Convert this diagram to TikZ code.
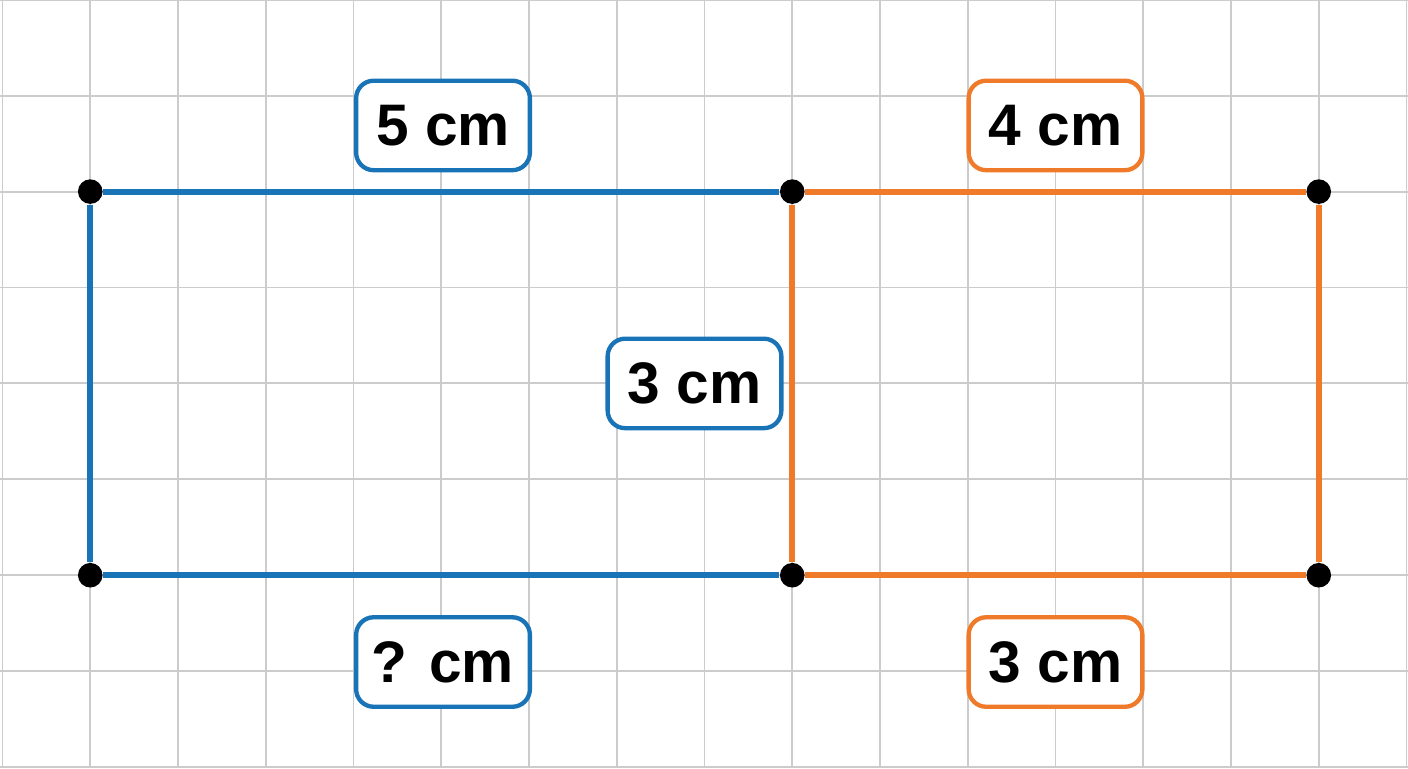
\documentclass[tikz,border=0pt]{standalone}
\usepackage{fontspec}
\setmainfont{Liberation Sans}
\usetikzlibrary{positioning}
\definecolor{sideblue}{RGB}{24,116,183}
\definecolor{sideorange}{RGB}{239,122,42}
\definecolor{gridgray}{RGB}{204,204,204}

\begin{document}
\begin{tikzpicture}[x=1cm,y=1.0929cm]
\tikzstyle{gridline}=[draw=gridgray,line width=0.6pt]
\tikzstyle{side}=[line width=1.9pt]
\tikzstyle{corner}=[circle,fill=black,inner sep=0pt,minimum size=0.28cm]
\tikzstyle{tag}=[rectangle,rounded corners=0.2cm,fill=white,line width=1.4pt,minimum width=1.98cm,minimum height=1.02cm,inner sep=0pt,font=\fontsize{19}{23}\selectfont\bfseries]

\useasboundingbox (-0.0285,-0.0104) rectangle (16.017,7.998);
\foreach \i in {0,...,16} \draw[gridline] (\i,-0.0104) -- (\i,7.998);
\foreach \j in {0,...,8} \draw[gridline] (-0.0285,\j) -- (16.017,\j);

% corners
\node[corner] (tl) at (1,6) {};
\node[corner] (bl) at (1,2) {};
\node[corner] (tm) at (9,6) {};
\node[corner] (bm) at (9,2) {};
\node[corner] (tr) at (15,6) {};
\node[corner] (br) at (15,2) {};

% blue rectangle
\draw[side,sideblue] (tl) -- (tm);
\draw[side,sideblue] (tl) -- (bl);
\draw[side,sideblue] (bl) -- (bm);
% orange rectangle
\draw[side,sideorange] (tm) -- (tr);
\draw[side,sideorange] (tr) -- (br);
\draw[side,sideorange] (bm) -- (br);
\draw[side,sideorange] (tm) -- (bm);

% side lengths
\node[tag,draw=sideblue] (top5) at (5.02,6.69) {5 cm};
\node[tag,draw=sideorange] (top4) at (12,6.69) {4 cm};
\node[tag,draw=sideblue] (mid3) at (7.886,4) {3 cm};
\node[tag,draw=sideblue] (botq) at (5.02,1.095) {? cm};
\node[tag,draw=sideorange] (bot3) at (12,1.095) {3 cm};
\end{tikzpicture}
\end{document}
